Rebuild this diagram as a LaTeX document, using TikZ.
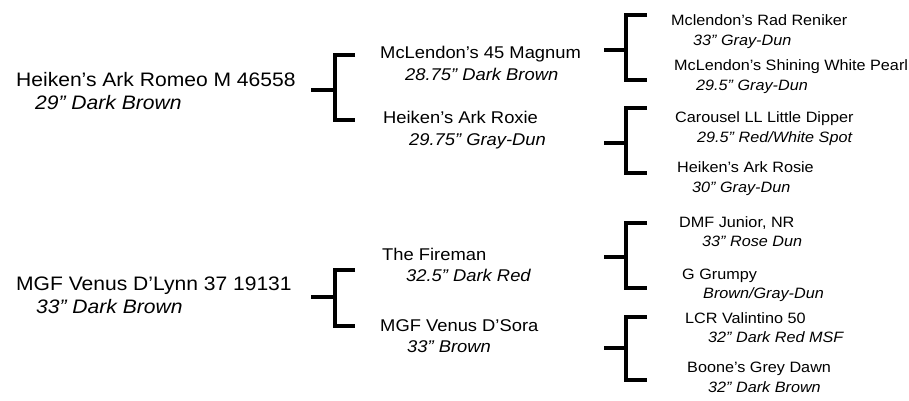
\documentclass[tikz,border=0pt]{standalone}
\usepackage{fontspec}
\setmainfont{Liberation Sans}[FakeStretch=1.08]
\usepackage{tikz}

\tikzset{
  horse/.style={anchor=base west, inner sep=0pt},
  sireL/.style={horse, font=\fontsize{19.5}{23}\selectfont},
  coatL/.style={horse, font=\fontsize{19.5}{23}\selectfont\itshape},
  sireM/.style={horse, font=\fontsize{17}{20}\selectfont},
  coatM/.style={horse, font=\fontsize{17}{20}\selectfont\itshape},
  sireR/.style={horse, font=\fontsize{15}{18}\selectfont},
  coatR/.style={horse, font=\fontsize{15}{18}\selectfont\itshape},
  bracket/.style={line width=3.5pt, line join=miter}
}

\begin{document}
\begin{tikzpicture}[x=1pt, y=-1pt]
  \useasboundingbox (0,0) rectangle (909,401);

  % first generation
  \node[sireL] (romeo) at (16,87) {Heiken’s Ark Romeo M 46558};
  \node[coatL] (romeoC) at (35,110) {29” Dark Brown};
  \node[sireL] (venus) at (16,290) {MGF Venus D’Lynn 37 19131};
  \node[coatL] (venusC) at (36,313) {33” Dark Brown};

  % second generation
  \node[sireM] (magnum) at (380,59) {McLendon’s 45 Magnum};
  \node[coatM] (magnumC) at (405,81) {28.75” Dark Brown};
  \node[sireM] (roxie) at (383,123) {Heiken’s Ark Roxie};
  \node[coatM] (roxieC) at (409,145) {29.75” Gray-Dun};
  \node[sireM] (fireman) at (382,260) {The Fireman};
  \node[coatM] (firemanC) at (406,281) {32.5” Dark Red};
  \node[sireM] (sora) at (380,331) {MGF Venus D’Sora};
  \node[coatM] (soraC) at (407,352) {33” Brown};

  % third generation
  \node[sireR] (reniker) at (671,25.5) {Mclendon’s Rad Reniker};
  \node[coatR] (renikerC) at (693,46) {33” Gray-Dun};
  \node[sireR] (pearl) at (674,70.5) {McLendon’s Shining White Pearl};
  \node[coatR] (pearlC) at (696,91) {29.5” Gray-Dun};
  \node[sireR] (dipper) at (675,122) {Carousel LL Little Dipper};
  \node[coatR] (dipperC) at (697,142) {29.5” Red/White Spot};
  \node[sireR] (rosie) at (677,172) {Heiken’s Ark Rosie};
  \node[coatR] (rosieC) at (692,192) {30” Gray-Dun};
  \node[sireR] (junior) at (679,227) {DMF Junior, NR};
  \node[coatR] (juniorC) at (702,246) {33” Rose Dun};
  \node[sireR] (grumpy) at (682,279) {G Grumpy};
  \node[coatR] (grumpyC) at (703,298) {Brown/Gray-Dun};
  \node[sireR] (valintino) at (685,323) {LCR Valintino 50};
  \node[coatR] (valintinoC) at (708,342) {32” Dark Red MSF};
  \node[sireR] (boone) at (687,372) {Boone’s Grey Dawn};
  \node[coatR] (booneC) at (708,392) {32” Dark Brown};

  % brackets
  \coordinate (romeoB) at (311,90);
  \coordinate (romeoT) at (355,55);
  \coordinate (romeoD) at (355,120);
  \draw[bracket] (romeoB) -- ++(24,0);
  \draw[bracket] (romeoT) -- ++(-20,0) |- (romeoD);

  \coordinate (venusB) at (311,297);
  \coordinate (venusT) at (355,270);
  \coordinate (venusD) at (355,326);
  \draw[bracket] (venusB) -- ++(24,0);
  \draw[bracket] (venusT) -- ++(-20,0) |- (venusD);

  \coordinate (magnumB) at (604,50);
  \coordinate (magnumT) at (647,15);
  \coordinate (magnumD) at (647,80);
  \draw[bracket] (magnumB) -- ++(22,0);
  \draw[bracket] (magnumT) -- ++(-21,0) |- (magnumD);

  \coordinate (roxieB) at (604,143);
  \coordinate (roxieT) at (647,108);
  \coordinate (roxieD) at (647,173);
  \draw[bracket] (roxieB) -- ++(22,0);
  \draw[bracket] (roxieT) -- ++(-21,0) |- (roxieD);

  \coordinate (firemanB) at (604,257);
  \coordinate (firemanT) at (647,223);
  \coordinate (firemanD) at (647,288);
  \draw[bracket] (firemanB) -- ++(22,0);
  \draw[bracket] (firemanT) -- ++(-21,0) |- (firemanD);

  \coordinate (soraB) at (604,348);
  \coordinate (soraT) at (647,317);
  \coordinate (soraD) at (647,380);
  \draw[bracket] (soraB) -- ++(22,0);
  \draw[bracket] (soraT) -- ++(-21,0) |- (soraD);
\end{tikzpicture}
\end{document}
